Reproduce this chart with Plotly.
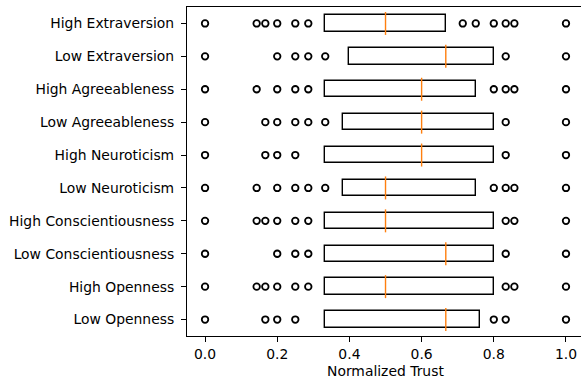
import plotly.graph_objects as go

# Categories, bottom to top
categories = [
    "Low Openness", "High Openness",
    "Low Conscientiousness", "High Conscientiousness",
    "Low Neuroticism", "High Neuroticism",
    "Low Agreeableness", "High Agreeableness",
    "Low Extraversion", "High Extraversion",
]
q1 = [0.333, 0.333, 0.333, 0.333, 0.381, 0.333, 0.381, 0.333, 0.400, 0.333]
median = [0.667, 0.500, 0.667, 0.500, 0.500, 0.600, 0.600, 0.600, 0.667, 0.500]
q3 = [0.762, 0.800, 0.800, 0.800, 0.750, 0.800, 0.800, 0.750, 0.800, 0.667]
outliers = [
    [0.0, 0.167, 0.2, 0.25, 0.8, 0.833, 1.0],
    [0.0, 0.143, 0.167, 0.2, 0.25, 0.286, 0.833, 0.857, 1.0],
    [0.0, 0.2, 0.25, 0.286, 0.833, 1.0],
    [0.0, 0.143, 0.167, 0.2, 0.25, 0.286, 0.833, 0.857, 1.0],
    [0.0, 0.143, 0.2, 0.25, 0.286, 0.333, 0.8, 0.833, 0.857, 1.0],
    [0.0, 0.167, 0.2, 0.25, 0.833, 1.0],
    [0.0, 0.167, 0.2, 0.25, 0.286, 0.333, 0.833, 1.0],
    [0.0, 0.143, 0.2, 0.25, 0.286, 0.8, 0.833, 0.857, 1.0],
    [0.0, 0.2, 0.25, 0.286, 0.333, 0.833, 1.0],
    [0.0, 0.143, 0.167, 0.2, 0.25, 0.286, 0.714, 0.75, 0.8, 0.833, 0.857, 1.0],
]
x_ticks = [0.0, 0.2, 0.4, 0.6, 0.8, 1.0]
x_ticktext = ["0.0", "0.2", "0.4", "0.6", "0.8", "1.0"]
x_title = "Normalized Trust"

FONT = "DejaVu Sans"
FS = 13.9

fig = go.Figure()

# Boxes (q1..q3)
fig.add_trace(go.Bar(
    y=categories, x=[b - a for a, b in zip(q1, q3)], base=q1,
    orientation="h", width=0.5,
    marker=dict(color="white", line=dict(color="black", width=1.4)),
    showlegend=False, hoverinfo="skip",
))

# Medians
fig.add_trace(go.Scatter(
    y=categories, x=median, mode="markers",
    marker=dict(symbol="line-ns", size=16.4,
                line=dict(color="#ff7f0e", width=1.4)),
    showlegend=False, hoverinfo="skip",
))

# Outliers
oy, ox = [], []
for cat, vals in zip(categories, outliers):
    for v in vals:
        oy.append(cat)
        ox.append(v)
fig.add_trace(go.Scatter(
    y=oy, x=ox, mode="markers",
    marker=dict(symbol="circle-open", size=6.5, color="black",
                line=dict(color="black", width=1.8)),
    showlegend=False, hoverinfo="skip",
))

fig.update_layout(
    width=581, height=379,
    margin=dict(l=187, r=0, t=7, b=43, autoexpand=False),
    paper_bgcolor="white", plot_bgcolor="white",
    font=dict(family=FONT, size=FS, color="black"),
    bargap=0,
    annotations=[dict(
        text=x_title, xref="paper", yref="paper",
        x=0.505, y=0, xanchor="center", yanchor="top",
        yshift=-25, showarrow=False,
        font=dict(family=FONT, size=FS, color="black"),
    )],
)
fig.update_xaxes(
    range=[-0.05, 1.0416], automargin=False,
    tickvals=x_ticks, ticktext=x_ticktext,
    showgrid=False, zeroline=False,
    showline=True, linecolor="black", linewidth=1.1, mirror=True,
    ticks="outside", ticklen=5, tickwidth=1.1, tickcolor="black",
    tickfont=dict(family=FONT, size=FS, color="black"),
)
fig.update_yaxes(
    type="category", categoryorder="array", categoryarray=categories,
    range=[-0.5, 9.5], automargin=False,
    showgrid=False, zeroline=False,
    showline=True, linecolor="black", linewidth=1.1, mirror=False,
    ticks="outside", ticklen=5, tickwidth=1.1, tickcolor="black",
    ticklabelstandoff=4,
    tickfont=dict(family=FONT, size=FS, color="black"),
)

fig.write_html("out.html",
               config={"displayModeBar": False},
               post_script="document.body.style.margin='0';")
